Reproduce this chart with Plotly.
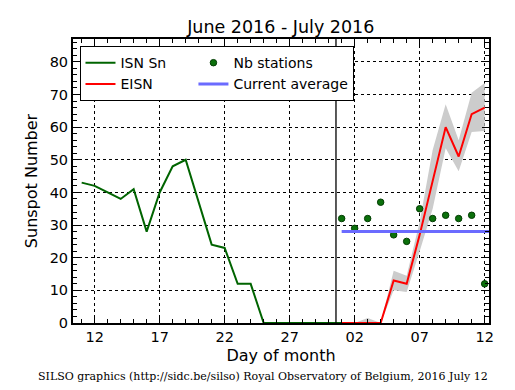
import plotly.graph_objects as go
import pandas as pd

# ---------------- data ----------------
isn_dates = pd.date_range("2016-06-11", "2016-07-01", freq="D")
isn_values = [43, 42, 40, 38, 41, 28, 40, 48, 50, 37, 24, 23, 12, 12, 0, 0, 0, 0, 0, 0, 0]

eisn_dates = pd.date_range("2016-07-01", "2016-07-12", freq="D")
eisn_values = [0, 0, 0, 0, 13, 12, 27, 44, 60, 51, 64, 66]
eisn_upper = [0, 0, 1.5, 0, 16, 14.5, 31, 53, 67, 56, 70.5, 73.5]
eisn_lower = [0, 0, 0, 0, 10, 9.5, 22, 35, 53.5, 46.5, 58.5, 58.8]

nb_stations = [32, 29, 32, 37, 27, 25, 35, 32, 33, 32, 33, 12]

current_average = 28
average_start = "2016-07-01"
average_end = "2016-07-12 08:00"

divider_x = "2016-06-30 13:30"

x_range = ["2016-06-10 08:00", "2016-07-12 08:00"]
y_range = [0, 87]
x_tickvals = ["2016-06-12", "2016-06-17", "2016-06-22", "2016-06-27",
              "2016-07-02", "2016-07-07", "2016-07-12"]
x_ticktext = ["12", "17", "22", "27", "02", "07", "12"]

FONT = "DejaVu Sans"
NBSP = "\u00a0"

fig = go.Figure()

# uncertainty band
fig.add_trace(go.Scatter(x=list(eisn_dates), y=eisn_upper, mode="lines",
                         line=dict(width=0, color="#cccccc"), showlegend=False,
                         hoverinfo="skip"))
fig.add_trace(go.Scatter(x=list(eisn_dates), y=eisn_lower, mode="lines",
                         line=dict(width=0, color="#cccccc"), fill="tonexty",
                         fillcolor="#cccccc", showlegend=False, hoverinfo="skip"))

fig.add_trace(go.Scatter(x=list(isn_dates), y=isn_values, mode="lines",
                         name="ISN Sn" + NBSP * 5, line=dict(color="#006400", width=2),
                         legendgroup="a"))
fig.add_trace(go.Scatter(x=list(eisn_dates), y=eisn_values, mode="lines",
                         name="EISN", line=dict(color="#ff0000", width=2),
                         legendgroup="a"))
fig.add_trace(go.Scatter(x=list(eisn_dates), y=nb_stations, mode="markers",
                         name="Nb stations",
                         marker=dict(color="#0b700b", size=6.5,
                                     line=dict(color="#033d03", width=1)),
                         legendgroup="b"))
fig.add_trace(go.Scatter(x=[average_start, average_end],
                         y=[current_average, current_average], mode="lines",
                         name="Current average",
                         line=dict(color="#6b6bff", width=3), legendgroup="b"))

fig.add_shape(type="line", xref="x", yref="paper", x0=divider_x, x1=divider_x,
              y0=0, y1=1, line=dict(color="black", width=1.3))

axis_common = dict(
    showline=True, linecolor="black", linewidth=2, mirror="ticks",
    ticks="inside", ticklen=7, tickcolor="black", tickwidth=1,
    showgrid=True, gridcolor="black", gridwidth=1, griddash="dot",
    zeroline=False, automargin=False,
    tickfont=dict(family=FONT, size=14.5, color="black"),
)

fig.update_xaxes(
    **axis_common, range=x_range, type="date", tickmode="array",
    tickvals=x_tickvals, ticktext=x_ticktext,
    minor=dict(ticks="inside", ticklen=4, tickcolor="black", dtick=86400000,
               tick0="2016-06-11", showgrid=False),
    title=dict(text="Day of month", font=dict(family=FONT, size=16, color="black"),
               standoff=5),
)
fig.update_yaxes(
    **axis_common, range=y_range, dtick=10, tick0=0,
    minor=dict(ticks="inside", ticklen=4, tickcolor="black", dtick=2,
               showgrid=False),
    title=dict(text="Sunspot Number", font=dict(family=FONT, size=16, color="black"),
               standoff=8),
)

fig.update_layout(
    width=507, height=382,
    margin=dict(l=65, r=26, t=31, b=67, autoexpand=False),
    paper_bgcolor="white", plot_bgcolor="white",
    title=dict(text="June 2016 - July 2016", x=0.538, xanchor="center",
               y=0.95, yanchor="middle", yref="container",
               font=dict(family=FONT, size=17.5, color="black")),
    legend=dict(orientation="h", x=0.018, y=0.975, xanchor="left", yanchor="top",
                bgcolor="white", bordercolor="black", borderwidth=1,
                font=dict(family=FONT, size=14, color="black"),
                traceorder="grouped", tracegroupgap=0),
    font=dict(family=FONT, color="black"),
    showlegend=True,
)

fig.add_annotation(
    text="SILSO graphics (http://sidc.be/silso) Royal Observatory of Belgium, 2016 July 12",
    xref="paper", yref="paper", x=0.457, y=-0.187, xanchor="center", yanchor="middle",
    showarrow=False, font=dict(family="DejaVu Serif", size=11, color="black"),
)

fig.write_html("out.html")
